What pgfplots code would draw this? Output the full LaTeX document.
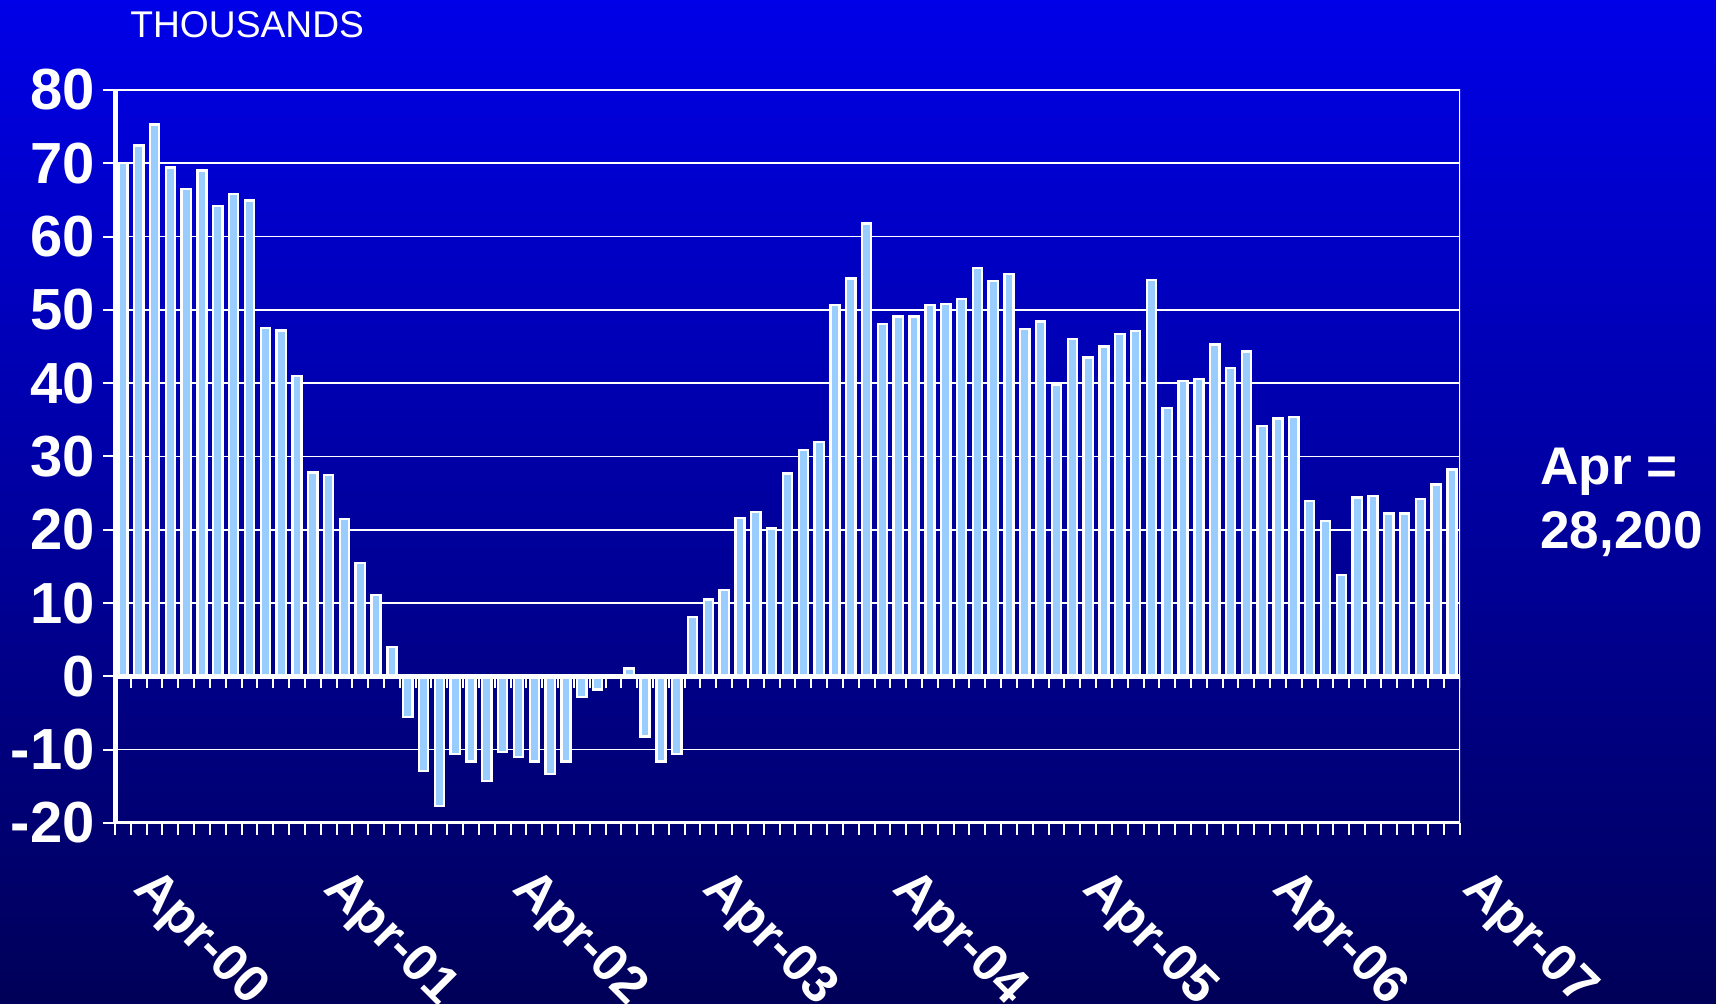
\documentclass[border=0pt]{standalone}
\usepackage{fontspec}
\setmainfont{Liberation Sans}
\usepackage{pgfplots}
\pgfplotsset{compat=1.18}
\definecolor{barblue}{RGB}{153,204,255}
\definecolor{bgtop}{RGB}{0,0,232}
\definecolor{bgbot}{RGB}{0,0,88}
\begin{document}
\begin{tikzpicture}
\shade[top color=bgtop, bottom color=bgbot] (0,0) rectangle (858pt,502pt);
\useasboundingbox (0,0) rectangle (858pt,502pt);
\begin{axis}[
  at={(57.5pt,90.5pt)}, anchor=south west,
  scale only axis, width=672.5pt, height=366.5pt,
  xmin=-0.5, xmax=84.5, ymin=-20, ymax=80,
  axis lines*=left,
  axis line style={-},
  x axis line style={white, line width=1.5pt},
  y axis line style={white, line width=2.5pt},
  xtick={0,12,...,84},
  xticklabels={Apr-00,Apr-01,Apr-02,Apr-03,Apr-04,Apr-05,Apr-06,Apr-07},
  minor xtick={-0.5,0.5,...,84.5},
  every major x tick/.append style={draw=none},
  tick align=outside,
  major tick length=6pt, minor tick length=6pt,
  tick style={white, line width=1pt},
  ytick={-20,-10,...,80},
  yticklabels={-20,-10,0,10,20,30,40,50,60,70,80},
  ymajorgrids, grid style={white, line width=0.8pt},
  yticklabel style={font=\fontsize{29}{29}\selectfont\bfseries, text=white, inner sep=1pt, xshift=-3pt},
  xticklabel style={font=\fontsize{26}{26}\selectfont\bfseries, text=white, inner sep=0pt, xshift=4.5pt, yshift=-27.5pt, rotate=-45, anchor=base west},
]
\addplot[ybar, bar width=0.58, fill=barblue, draw=white, line width=1.2pt] coordinates {
(0,70) (1,72.4) (2,75.3) (3,69.4) (4,66.5) (5,69) (6,64.2) (7,65.8) (8,64.9) (9,47.5) (10,47.2) (11,41)
(12,27.8) (13,27.5) (14,21.5) (15,15.5) (16,11.1) (17,4) (18,-5.5) (19,-12.9) (20,-17.7) (21,-10.6) (22,-11.6) (23,-14.3)
(24,-10.3) (25,-11) (26,-11.6) (27,-13.3) (28,-11.6) (29,-2.8) (30,-1.8) (31,0) (32,1.1) (33,-8.2) (34,-11.6) (35,-10.6)
(36,8.1) (37,10.5) (38,11.8) (39,21.6) (40,22.4) (41,20.2) (42,27.7) (43,30.9) (44,32) (45,50.7) (46,54.3) (47,61.8)
(48,48.1) (49,49.1) (50,49.1) (51,50.7) (52,50.8) (53,51.5) (54,55.7) (55,53.9) (56,54.9) (57,47.4) (58,48.4) (59,39.8)
(60,46) (61,43.5) (62,45) (63,46.7) (64,47.1) (65,54.1) (66,36.6) (67,40.3) (68,40.6) (69,45.3) (70,42.1) (71,44.3)
(72,34.2) (73,35.2) (74,35.4) (75,23.9) (76,21.2) (77,13.8) (78,24.4) (79,24.6) (80,22.2) (81,22.2) (82,24.2) (83,26.2) (84,28.2)
};
\draw[white, line width=2.3pt] (axis cs:-0.5,0) -- (axis cs:84.5,0);
\pgfplotsinvokeforeach{-0.5,0.5,...,84.5}{\draw[white, line width=1pt] (axis cs:#1,0) -- ++(0pt,-6pt);}
\draw[white, line width=1pt] (rel axis cs:0,1) -- (rel axis cs:1,1) -- (rel axis cs:1,0);
\end{axis}
\node[anchor=base west, inner sep=0, text=white, font=\fontsize{18.6}{18.6}\selectfont] at (65pt,483pt) {THOUSANDS};
\node[anchor=base west, inner sep=0, text=white, font=\fontsize{26.5}{26.5}\selectfont\bfseries] at (770pt,259.5pt) {Apr =};
\node[anchor=base west, inner sep=0, text=white, font=\fontsize{26.5}{26.5}\selectfont\bfseries] at (770pt,227.5pt) {28,200};
\end{tikzpicture}
\end{document}
